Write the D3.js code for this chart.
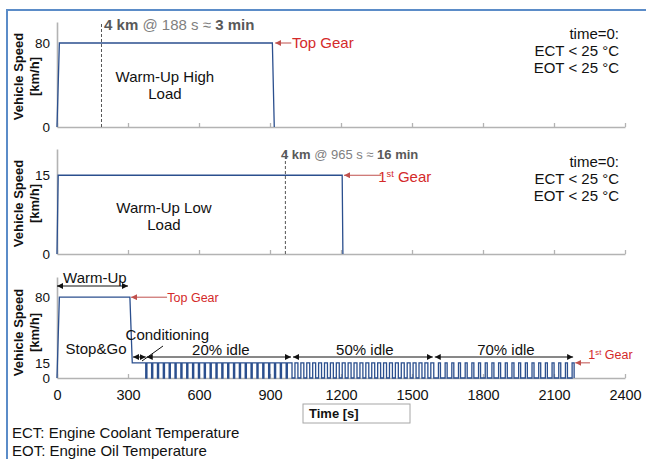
<!DOCTYPE html>
<html>
<head>
<meta charset="utf-8">
<script src="https://cdn.jsdelivr.net/npm/d3@7"></script>
<style>
  html, body { margin: 0; padding: 0; background: #fff; }
  svg { display: block; font-family: "Liberation Sans", Arial, sans-serif; }
</style>
</head>
<body>
<svg id="chart" width="646" height="459"></svg>
<script>
// time axis
var xTicks = [0, 300, 600, 900, 1200, 1500, 1800, 2100, 2400];

// warm-up high load (top gear)
var highLoadTime = [0, 10, 910, 918];
var highLoadSpeed = [0, 80, 80, 0];

// warm-up low load (1st gear)
var lowLoadTime = [0, 5, 1205, 1208];
var lowLoadSpeed = [0, 15, 15, 0];

// full cycle: warm-up + conditioning
var cycleTime = [0, 10, 308, 318, 375];
var cycleSpeed = [0, 80, 80, 15, 15];

// stop & go phases
var stopGoLabels = ['20% idle', '50% idle', '70% idle'];
var stopGoStart = [375, 993, 1592];
var stopGoEnd = [993, 1592, 2185];
var stopGoPulses = [25, 24, 21];
var stopGoIdle = [0.2, 0.5, 0.7];
var stopGoSpeed = 15;

var svg = d3.select('#chart');
var FONT = '"Liberation Sans", Arial, sans-serif';
var lineColor = '#2b4f8e';
var axisColor = '#b3b3b3';
var red = '#d42a2a';

var x = d3.scaleLinear().domain([0, 2400]).range([57, 625]);

var panels = [
  { top: 22, bottom: 127, max: 100, ticks: [0, 80], labels: false },
  { top: 149, bottom: 254, max: 20, ticks: [0, 15], labels: false },
  { top: 277, bottom: 378, max: 100, ticks: [0, 15, 80], labels: true }
];
panels.forEach(function (p) {
  p.y = d3.scaleLinear().domain([0, p.max]).range([p.bottom, p.top]);
});

// frame
svg.append('rect')
  .attr('x', 7).attr('y', 10)
  .attr('width', 700).attr('height', 500)
  .attr('fill', 'none')
  .attr('stroke', '#5b8cc8')
  .attr('stroke-width', 2);

// markers
var defs = svg.append('defs');
function marker(id, color, size) {
  defs.append('marker')
    .attr('id', id)
    .attr('viewBox', '0 0 10 10')
    .attr('refX', 10).attr('refY', 5)
    .attr('markerWidth', size).attr('markerHeight', size)
    .attr('markerUnits', 'userSpaceOnUse')
    .attr('orient', 'auto-start-reverse')
    .append('path')
    .attr('d', 'M0,0L10,5L0,10z')
    .attr('fill', color);
}
marker('blk', '#111', 6);
marker('red', '#c0504d', 6);

// axes
panels.forEach(function (p) {
  var gx = svg.append('g')
    .attr('transform', 'translate(0,' + p.bottom + ')')
    .call(d3.axisBottom(x).tickValues(xTicks)
      .tickSizeInner(-4).tickSizeOuter(0).tickPadding(12)
      .tickFormat(p.labels ? d3.format('d') : ''));
  gx.select('.domain').attr('stroke', axisColor).attr('stroke-width', 1.6);
  gx.selectAll('.tick line').attr('stroke', axisColor).attr('stroke-width', 1.3);
  gx.selectAll('.tick text')
    .attr('fill', '#111')
    .attr('font-size', '14.5px')
    .attr('font-family', FONT);

  var gy = svg.append('g')
    .attr('transform', 'translate(57,0)')
    .call(d3.axisLeft(p.y).tickValues(p.ticks).tickSize(0).tickPadding(7));
  gy.select('.domain').attr('stroke', axisColor).attr('stroke-width', 1.6);
  gy.selectAll('.tick text')
    .attr('fill', '#111')
    .attr('font-size', '13.5px')
    .attr('font-family', FONT);

  var cy = (p.top + p.bottom) / 2 + (p.labels ? 5 : 2);
  var t = svg.append('text')
    .attr('transform', 'translate(18,' + cy + ') rotate(-90)')
    .attr('text-anchor', 'middle')
    .attr('font-size', '13px')
    .attr('font-weight', 'bold')
    .attr('fill', '#111')
    .attr('font-family', FONT);
  t.append('tspan').attr('x', 0).attr('dy', '0.35em').text('Vehicle Speed');
  t.append('tspan').attr('x', 0).attr('dy', '1.3em').text('[km/h]');
});

// speed traces
function trace(p, times, speeds) {
  var pts = times.map(function (t, i) { return [t, speeds[i]]; });
  svg.append('path')
    .datum(pts)
    .attr('fill', 'none')
    .attr('stroke', lineColor)
    .attr('stroke-width', 1.3)
    .attr('d', d3.line()
      .x(function (d) { return x(d[0]); })
      .y(function (d) { return p.y(d[1]); }));
}
trace(panels[0], highLoadTime, highLoadSpeed);
trace(panels[1], lowLoadTime, lowLoadSpeed);

var stopGoTime = cycleTime.slice();
var stopGoSpd = cycleSpeed.slice();
stopGoLabels.forEach(function (lab, k) {
  var period = (stopGoEnd[k] - stopGoStart[k]) / stopGoPulses[k];
  for (var i = 0; i < stopGoPulses[k]; i++) {
    var t0 = stopGoStart[k] + i * period;
    var tUp = t0 + stopGoIdle[k] * period;
    stopGoTime.push(t0, tUp, tUp, t0 + period);
    stopGoSpd.push(0, 0, stopGoSpeed, stopGoSpeed);
  }
});
stopGoTime.push(stopGoEnd[2]);
stopGoSpd.push(0);
trace(panels[2], stopGoTime, stopGoSpd);

// helpers for annotations
function label(px, py, str, opts) {
  opts = opts || {};
  return svg.append('text')
    .attr('x', px).attr('y', py)
    .attr('dy', '0.35em')
    .attr('text-anchor', opts.anchor || 'start')
    .attr('font-size', (opts.size || 15) + 'px')
    .attr('font-weight', opts.bold ? 'bold' : 'normal')
    .attr('fill', opts.color || '#111')
    .attr('font-family', FONT)
    .text(str);
}
function arrow(x1, y1, x2, y2, color, both) {
  var l = svg.append('line')
    .attr('x1', x1).attr('y1', y1).attr('x2', x2).attr('y2', y2)
    .attr('stroke', color === 'red' ? '#c0504d' : '#111')
    .attr('stroke-width', 1)
    .attr('marker-end', 'url(#' + (color === 'red' ? 'red' : 'blk') + ')');
  if (both) l.attr('marker-start', 'url(#blk)');
}
function dashed(p, t) {
  svg.append('line')
    .attr('x1', x(t)).attr('x2', x(t))
    .attr('y1', p.y(0)).attr('y2', p.y(p.max))
    .attr('stroke', '#555')
    .attr('stroke-width', 1)
    .attr('stroke-dasharray', '3,2');
}
function distanceNote(px, py, sec, min, size) {
  var t = svg.append('text')
    .attr('x', px).attr('y', py).attr('dy', '0.35em')
    .attr('font-size', size + 'px')
    .attr('font-family', FONT);
  t.append('tspan').attr('font-weight', 'bold').attr('fill', '#595959').text('4 km');
  t.append('tspan').attr('fill', '#7f7f7f').text(' @ ' + sec + ' s \u2248 ');
  t.append('tspan').attr('font-weight', 'bold').attr('fill', '#595959').text(min + ' min');
}
function firstGear(px, py, size) {
  var t = svg.append('text')
    .attr('x', px).attr('y', py).attr('dy', '0.35em')
    .attr('font-size', size + 'px')
    .attr('fill', red)
    .attr('font-family', FONT);
  t.append('tspan').text('1');
  t.append('tspan').attr('font-size', (size * 0.62) + 'px').attr('dy', -size * 0.35).text('st');
  t.append('tspan').attr('dy', size * 0.35).text(' Gear');
}
function conditions(py) {
  ['time=0:', 'ECT < 25 \u00b0C', 'EOT < 25 \u00b0C'].forEach(function (s, i) {
    label(619, py + i * 17, s, { anchor: 'end' });
  });
}

// top panel
var p0 = panels[0], p1 = panels[1], p2 = panels[2];
dashed(p0, 188);
distanceNote(x(199), 25, 188, 3, 15);
arrow(x(990), p0.y(80), x(922), p0.y(80), 'red');
label(x(993), p0.y(80), 'Top Gear', { color: red });
label(x(456), 77, 'Warm-Up High', { anchor: 'middle' });
label(x(456), 94, 'Load', { anchor: 'middle' });
conditions(34);

// middle panel
dashed(p1, 965);
distanceNote(x(946), 154, 965, 16, 13);
arrow(x(1370), p1.y(15), x(1213), p1.y(15), 'red');
firstGear(x(1357), 177, 15);
label(x(452), 208, 'Warm-Up Low', { anchor: 'middle' });
label(x(452), 225, 'Load', { anchor: 'middle' });
conditions(162);

// bottom panel
label(x(160), 278, 'Warm-Up', { anchor: 'middle' });
arrow(x(0), 286, x(300), 286, 'blk', true);
arrow(x(465), p2.y(80), x(313), p2.y(80), 'red');
label(x(466), p2.y(80), 'Top Gear', { size: 12.5, color: red });
label(x(165), 349, 'Stop&Go', { anchor: 'middle' });
label(x(466), 335, 'Conditioning', { anchor: 'middle' });
arrow(x(321), 357, x(375), 357, 'blk', true);
svg.append('line')
  .attr('x1', 142).attr('y1', 361).attr('x2', 163).attr('y2', 346)
  .attr('stroke', '#111').attr('stroke-width', 1);
stopGoLabels.forEach(function (lab, k) {
  arrow(x(stopGoStart[k]) + 1, 357, x(stopGoEnd[k]) - 1, 357, 'blk', true);
  label(x((stopGoStart[k] + stopGoEnd[k]) / 2) + 2, 350, lab, { anchor: 'middle' });
});
arrow(x(2252), p2.y(15), x(2190), p2.y(15), 'red');
firstGear(x(2245), 355, 12.5);

// x axis title
svg.append('rect')
  .attr('x', 303).attr('y', 404).attr('width', 107).attr('height', 19)
  .attr('fill', '#fff').attr('stroke', '#a6a6a6').attr('stroke-width', 1);
label(309, 413.5, 'Time [s]', { size: 13, bold: true });

// footnotes
label(12, 433, 'ECT: Engine Coolant Temperature');
label(12, 451, 'EOT: Engine Oil Temperature');
</script>
</body>
</html>
